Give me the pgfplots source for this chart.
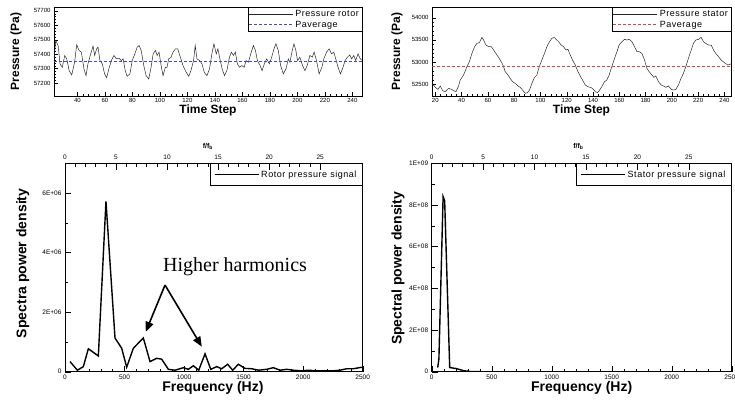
\documentclass[border=0pt]{standalone}
\usepackage{fontspec}
\setmainfont{Liberation Sans}
\newfontfamily\serif{Liberation Serif}
\newfontfamily\legfont[LetterSpace=6]{Liberation Sans}
\usepackage{pgfplots}
\pgfplotsset{compat=1.18}
\usetikzlibrary{arrows.meta}

\definecolor{avgblue}{RGB}{70,70,210}
\definecolor{avgred}{RGB}{200,70,70}

\pgfplotsset{
  tec/.style={
    scale only axis, anchor=south west,
    tick align=inside, tick pos=left,
    axis line style={line width=0.6pt},
    every tick/.style={black, line width=0.4pt},
    scaled ticks=false,
    /pgf/number format/assume math mode=true,
    /pgf/number format/set thousands separator={},
    legend cell align=left,
    legend image code/.code={\draw[##1] (0pt,0pt) -- (44pt,0pt);},
  },
  tecfb/.style={
    scale only axis, anchor=south west,
    xmin=0, xmax=29.17, ymin=0, ymax=1,
    axis x line*=top, axis y line=none,
    tick align=inside,
    xtick={0,5,...,25}, minor x tick num=4,
    major tick length=7pt, minor tick length=3.5pt,
    every tick/.style={black, line width=0.5pt},
    axis line style={line width=0.6pt},
    /pgf/number format/assume math mode=true,
    tick label style={font=\fontsize{6.5}{7}\selectfont},
    xlabel={\textbf{f/f}\textsubscript{\textbf{b}}},
    xlabel style={font=\fontsize{7}{8}\selectfont, anchor=center},
  },
}

% rotor pressure history (time step, Pa)
\pgfplotstableread{
t p
23 57367
24.3 57495
26 57460
27.4 57333
29 57309
30.8 57390
32.3 57367
34 57286
35.9 57256
38 57344
39.5 57465
41.2 57426
42.9 57414
44.8 57298
46.3 57251
47.7 57333
49.7 57402
51.4 57456
52.6 57391
54 57437
55 57449
56.4 57356
58.1 57333
59.8 57263
61.3 57237
62.9 57298
64.9 57360
66.6 57391
68.5 57367
70.2 57372
71.9 57356
73.3 57367
74.8 57286
76.2 57247
78.2 57263
79.9 57356
81.5 57395
83.5 57449
84.9 57460
86.4 57426
88.3 57321
90 57251
91.9 57228
93.6 57309
95.1 57402
96.8 57426
98 57391
99.4 57414
100.9 57321
102.3 57251
104 57309
105.2 57309
106.4 57367
108.1 57379
109.6 57414
111.3 57437
113 57437
114.9 57379
116.8 57321
118.5 57286
121 57247
122.6 57286
124.5 57356
125.7 57460
127 57367
128.9 57356
130.6 57333
132.3 57274
134.2 57251
136.1 57298
137.8 57402
139.3 57472
141 57402
142.2 57437
143.9 57356
145.3 57298
147 57251
148.7 57286
150.6 57379
152 57414
153.5 57391
154.9 57414
156.4 57333
157.9 57309
159.6 57321
161.3 57309
162.7 57356
164.4 57344
166.1 57402
168 57460
169.5 57426
170.9 57356
172.9 57321
174.3 57286
176 57333
177.7 57367
179.6 57333
181.3 57379
183 57437
184.4 57472
186.1 57426
187.8 57321
189.8 57263
191.7 57298
193.4 57367
194.6 57344
196 57414
197.5 57472
198.9 57426
200.1 57356
201.8 57379
203.8 57321
205.5 57286
207.1 57321
209.1 57391
210.8 57379
212.2 57414
213.9 57356
215.8 57263
217.8 57309
219.2 57367
221.2 57414
223.1 57437
224.8 57402
226.5 57414
227.9 57367
229.6 57309
231.3 57263
233.2 57309
234.7 57356
236.4 57379
238.1 57395
239.5 57367
241 57391
242.4 57356
244.1 57402
245.8 57367
247.2 57356
}\rotortime

% stator pressure history (time step, Pa)
\pgfplotstableread{
t p
17.5 52522
20 52432
22 52387
23.8 52462
25.6 52357
27.6 52335
30.1 52410
32.2 52387
34 52357
35.7 52335
37.7 52462
39 52597
41.5 52710
44.1 52897
45.9 53010
47.9 53197
49.9 53347
51.7 53422
53.5 53437
55.5 53557
56.8 53497
58.5 53385
60.6 53347
62.6 53347
64.4 53272
66.9 53160
69.4 53047
71.5 52935
73.2 52785
75.3 52710
77 52635
78.8 52560
80.8 52522
82.9 52462
84.6 52432
86.4 52372
88.4 52297
90.2 52312
91.7 52372
93.5 52522
95.5 52657
97.3 52710
99.1 52897
101.1 53047
103.1 53197
104.9 53347
106.9 53460
108.7 53535
110.5 53557
112 53512
113.8 53460
115.8 53385
117.6 53347
119.4 53272
120.9 53287
122.7 53160
124.4 53047
126.5 52935
128.5 52785
130.3 52687
132 52597
134.1 52485
136.1 52447
137.9 52432
139.6 52410
141.7 52335
143.4 52312
144.7 52357
146.7 52447
148.8 52560
150.5 52597
152.3 52710
154.3 52897
156.4 53085
158.2 53235
159.9 53385
162 53460
164 53512
165.8 53497
167.5 53512
169.6 53460
171.6 53347
173.4 53235
175.1 53235
177.2 53197
179.2 53047
181 52860
182.7 52785
184.8 52710
186.3 52657
187.8 52687
189.8 52560
191.9 52485
193.6 52462
195.4 52432
197.4 52462
199.5 52387
201.2 52372
203 52387
205 52485
207 52635
208.8 52747
210.6 52897
212.6 53085
214.7 53272
216.4 53422
218.2 53497
220.3 53512
222.3 53557
224 53460
225.8 53422
227.9 53385
229.9 53385
231.7 53272
233.4 53197
235.5 53122
237.5 53047
240 52987
242.6 52935
245 52960
}\statortime

\begin{document}
\begin{tikzpicture}
\path[use as bounding box] (0pt,0pt) rectangle (735pt,402pt);

% ---------- top left: rotor pressure ----------
\begin{axis}[tec, at={(54pt,306pt)}, width=308pt, height=89pt,
  xmin=23, xmax=247, ymin=57110, ymax=57727,
  xtick={40,60,...,240}, ytick={57200,57300,...,57700},
  minor x tick num=4, minor y tick num=4,
  major tick length=4pt, minor tick length=2pt,
  tick label style={font=\fontsize{6}{7}\selectfont},
  xticklabel style={yshift=1.5pt},
  xlabel={Time Step}, ylabel={Pressure (Pa)},
  label style={font=\bfseries\fontsize{12}{13}\selectfont},
  xlabel style={at={(axis description cs:0.5,-0.165)}, anchor=center},
  ylabel style={at={(axis description cs:-0.123,0.5)}, anchor=center},
  legend style={at={(1,1)}, anchor=north east, draw=black, line width=0.4pt,
    font=\legfont\fontsize{9}{9}\selectfont, inner sep=1pt, row sep=-1pt},
]
\addplot[black!85, line width=0.5pt] table[x=t, y=p] {\rotortime};
\addlegendentry{Pressure rotor}
\addplot[avgblue, line width=0.6pt, dash pattern=on 3pt off 2pt] coordinates {(23,57350) (247,57350)};
\addlegendentry{Paverage}
\end{axis}

% ---------- top right: stator pressure ----------
\begin{axis}[tec, at={(432pt,306pt)}, width=299pt, height=89pt,
  xmin=17.5, xmax=245, ymin=52237, ymax=54241,
  xtick={20,40,...,240}, ytick={52500,53000,53500,54000},
  minor x tick num=4, minor y tick num=4,
  major tick length=4pt, minor tick length=2pt,
  tick label style={font=\fontsize{6}{7}\selectfont},
  xticklabel style={yshift=1.5pt},
  xlabel={Time Step}, ylabel={Pressure (Pa)},
  label style={font=\bfseries\fontsize{12}{13}\selectfont},
  xlabel style={at={(axis description cs:0.5,-0.165)}, anchor=center},
  ylabel style={at={(axis description cs:-0.117,0.5)}, anchor=center},
  legend style={at={(1,1)}, anchor=north east, draw=black, line width=0.4pt,
    font=\legfont\fontsize{9}{9}\selectfont, inner sep=1pt, row sep=-1pt},
]
\addplot[black!85, line width=0.5pt] table[x=t, y=p] {\statortime};
\addlegendentry{Pressure stator}
\addplot[avgred, line width=0.6pt, dash pattern=on 3pt off 2pt] coordinates {(17.5,52900) (245,52900)};
\addlegendentry{Paverage}
\end{axis}

% ---------- bottom left: rotor spectrum ----------
\begin{axis}[tec, at={(65pt,30.3pt)}, width=297.7pt, height=208.4pt,
  xmin=0, xmax=2500, ymin=0, ymax=7e6,
  xtick={0,500,...,2500}, ytick={0,2e6,4e6,6e6},
  yticklabels={0,2E+06,4E+06,6E+06},
  minor x tick num=4, minor y tick num=1,
  major tick length=6pt, minor tick length=3pt,
  tick label style={font=\fontsize{6.5}{7}\selectfont},
  xlabel={Frequency (Hz)}, ylabel={Spectra power density},
  label style={font=\bfseries\fontsize{14}{15}\selectfont},
  xlabel style={at={(axis description cs:0.497,-0.078)}, anchor=center},
  ylabel style={at={(axis description cs:-0.142,0.52)}, anchor=center},
  legend style={at={(1,1)}, anchor=north east, draw=black, line width=0.4pt,
    font=\legfont\fontsize{9}{9}\selectfont, inner xsep=4pt, inner ysep=5pt},
]
\addplot[black, line width=1.4pt] coordinates {
  (42,3.4e5) (104,5e4) (154,1.7e5) (196,7.7e5) (280,5.3e5) (344,5.72e6)
  (420,1.13e6) (476,7.9e5) (518,1.5e5) (574,7.9e5) (658,1.13e6) (714,3.4e5)
  (770,4.5e5) (812,4.2e5) (868,8e4) (924,5e4) (994,1.35e5) (1036,8e4)
  (1078,2e5) (1123,5e4) (1176,6e5) (1224,8e4) (1274,1.7e5) (1316,1e5)
  (1366,2.5e5) (1408,5e4) (1456,2.5e5) (1512,1.1e5) (1568,1e5) (1624,5e4)
  (1694,8e4) (1750,1.35e5) (1806,5e4) (1862,8e4) (1918,5e4) (1988,3e4)
  (2044,5e4) (2114,3e4) (2184,3e4) (2254,3e4) (2310,5e4) (2366,1e5)
  (2422,1e5) (2492,1.5e5)
};
\addlegendentry{Rotor pressure signal}
\node[font=\serif\fontsize{20}{22}\selectfont] at (axis cs:1428,3.53e6) {Higher harmonics};
\draw[line width=1.6pt, -{Triangle[length=10pt,width=8pt]}] (axis cs:840,2.91e6) -- (axis cs:678,1.34e6);
\draw[line width=1.6pt, -{Triangle[length=10pt,width=8pt]}] (axis cs:840,2.91e6) -- (axis cs:1149,0.84e6);
\end{axis}
\begin{axis}[tecfb, at={(65pt,30.3pt)}, width=297.7pt, height=208.4pt,
  xlabel style={at={(axis description cs:0.48,1.08)}}]
\end{axis}

% ---------- bottom right: stator spectrum ----------
\begin{axis}[tec, at={(431.7pt,30.3pt)}, width=300pt, height=208.4pt,
  xmin=0, xmax=2500, ymin=0, ymax=1e9,
  xtick={0,500,...,2500}, ytick={0,2e8,4e8,6e8,8e8,1e9},
  yticklabels={0,2E+08,4E+08,6E+08,8E+08,1E+09},
  minor x tick num=4, minor y tick num=1,
  major tick length=6pt, minor tick length=3pt,
  tick label style={font=\fontsize{6.5}{7}\selectfont},
  xlabel={Frequency (Hz)}, ylabel={Spectral power density},
  label style={font=\bfseries\fontsize{14}{15}\selectfont},
  xlabel style={at={(axis description cs:0.5,-0.078)}, anchor=center},
  ylabel style={at={(axis description cs:-0.112,0.496)}, anchor=center},
  legend style={at={(1,1)}, anchor=north east, draw=black, line width=0.4pt,
    font=\legfont\fontsize{9}{9}\selectfont, inner xsep=4pt, inner ysep=5pt},
]
\addplot[black, line width=1.4pt] coordinates {
  (50,2e7) (60,6e7) (95,8.4e8) (108,8.2e8) (150,2e7) (205,1.5e7)
  (265,5e6) (320,1e6) (400,0) (1000,0) (1500,0) (2000,0) (2500,0)
};
\addlegendentry{Stator pressure signal}
\end{axis}
\begin{axis}[tecfb, at={(431.7pt,30.3pt)}, width=300pt, height=208.4pt,
  xlabel style={at={(axis description cs:0.489,1.08)}}]
\end{axis}

\end{tikzpicture}
\end{document}
